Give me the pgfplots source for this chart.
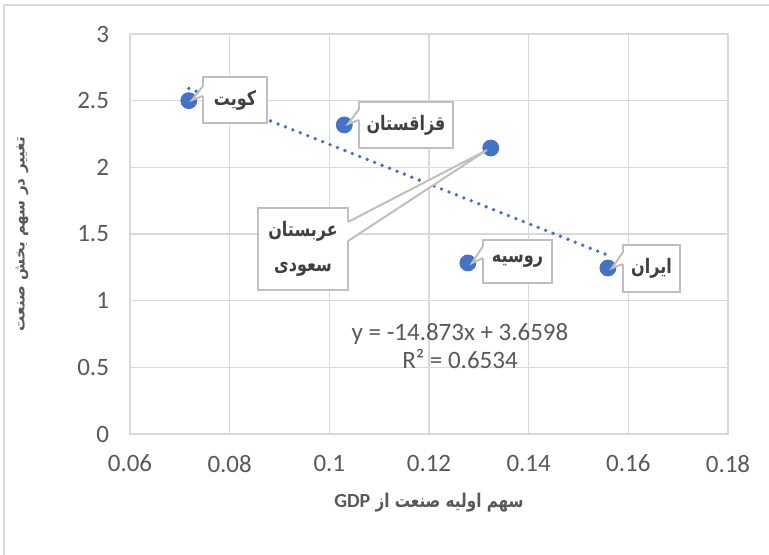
\documentclass[border=0pt]{standalone}
\usepackage{fontspec}
\setmainfont{Carlito}
\newfontfamily\arabicfont[Script=Arabic]{DejaVu Sans}
\newfontfamily\arabicnarrow[Script=Arabic, FakeStretch=0.8]{DejaVu Sans}
\usepackage{pgfplots}
\pgfplotsset{compat=1.18}
\TeXXeTstate=1
\definecolor{tickgray}{HTML}{595959}
\definecolor{txtgray}{HTML}{404040}
\definecolor{gridgray}{HTML}{D9D9D9}
\definecolor{boxgray}{HTML}{BFBFBF}
\definecolor{ptblue}{HTML}{4472C4}
\newcommand{\calloutfont}{\arabicnarrow\bfseries\fontsize{10}{17.5}\selectfont}

\begin{document}
\begin{tikzpicture}
% page = 769 x 554 px at 0.5pt per px, axis origin at px (130,434)
\path[use as bounding box] (-65pt,-60pt) rectangle (319.5pt,217pt);
\begin{axis}[
    scale only axis,
    width=299pt, height=200pt,
    xmin=0.06, xmax=0.18, ymin=0, ymax=3,
    xtick={0.06,0.08,0.1,0.12,0.14,0.16,0.18},
    ytick={0,0.5,1,1.5,2,2.5,3},
    /pgf/number format/.cd, fixed, precision=2, assume math mode=true,
    /pgfplots/.cd,
    grid=major,
    major grid style={gridgray, line width=0.7pt},
    axis line style={gridgray, line width=0.7pt},
    major tick length=0pt,
    tick label style={font=\fontsize{12.5}{15}\selectfont, text=tickgray},
    yticklabel style={xshift=-7pt},
    xticklabel style={yshift=-7pt},
    every axis x label/.style={at={(axis description cs:0.5,-0.1725)}, anchor=center},
    every axis y label/.style={at={(axis description cs:-0.1806,0.5)}, anchor=center, rotate=90},
    xlabel={\arabicnarrow\bfseries\fontsize{9.5}{11}\selectfont\color{tickgray}\beginR سهم اولیه صنعت از \beginL{\rmfamily\fontsize{10}{11}\selectfont GDP}\endL\endR},
    ylabel={\arabicfont\bfseries\fontsize{7.6}{9}\selectfont\color{tickgray}\beginR تغییر در سهم بخش صنعت\endR},
]
\addplot[only marks, mark=*, mark size=4pt, mark options={fill=ptblue, draw=ptblue}]
    coordinates {(0.0718,2.500) (0.1030,2.318) (0.1324,2.145) (0.1278,1.283) (0.1559,1.245)};
% linear trendline y = -14.873x + 3.6598 over the data range
\addplot[ptblue, line width=1.9pt, line cap=round, dash pattern=on 0pt off 4pt]
    coordinates {(0.0718,2.592) (0.1559,1.341)};
\end{axis}

\begin{scope}[shift={(-65pt,217pt)}, x=0.5pt, y=-0.5pt]
  \draw[gridgray, line width=1pt] (4.5,4.5) rectangle (800,600);
  \tikzset{box/.style={draw=boxgray, fill=white, line width=1pt},
           wedge/.style={draw=boxgray, line width=1pt},
           lbl/.style={text=txtgray, font=\calloutfont, inner sep=0pt, anchor=center}}
  % Kuwait
  \draw[box] (203,77) rectangle (267,123);
  \fill[white] (204,86) -- (192,100) -- (204,96) -- cycle;
  \draw[wedge] (203,86) -- (192,100) -- (203,96);
  \node[lbl] at (235,100) {\beginR کویت\endR};
  % Kazakhstan
  \draw[box] (359,102) rectangle (453,148);
  \fill[white] (360,109) -- (348,124) -- (360,120) -- cycle;
  \draw[wedge] (359,109) -- (348,124) -- (359,120);
  \node[lbl] at (406,125) {\beginR قزاقستان\endR};
  % Saudi Arabia
  \draw[box] (258,208) rectangle (348,290);
  \fill[white] (347,222) -- (487,150) -- (347,241) -- cycle;
  \draw[wedge] (348,222) -- (487,150) -- (348,241);
  \node[lbl, align=center] at (303,249)
    {\beginR عربستان\endR\\\beginR سعودی\endR};
  % Russia
  \draw[box] (483,240) rectangle (552,283);
  \fill[white] (484,246) -- (472,263) -- (484,258) -- cycle;
  \draw[wedge] (483,246) -- (472,263) -- (483,258);
  \node[lbl] at (517.5,261.5) {\beginR روسیه\endR};
  % Iran
  \draw[box] (623,245) rectangle (680,292);
  \fill[white] (624,252) -- (612,268) -- (624,264) -- cycle;
  \draw[wedge] (623,252) -- (612,268) -- (623,264);
  \node[lbl] at (651.5,268.5) {\beginR ایران\endR};
  % trendline equation
  \node[text=tickgray, align=center, font=\fontsize{12.5}{14}\selectfont] at (460,346)
    {y = -14.873x + 3.6598\\R² = 0.6534};
\end{scope}
\end{tikzpicture}
\end{document}
